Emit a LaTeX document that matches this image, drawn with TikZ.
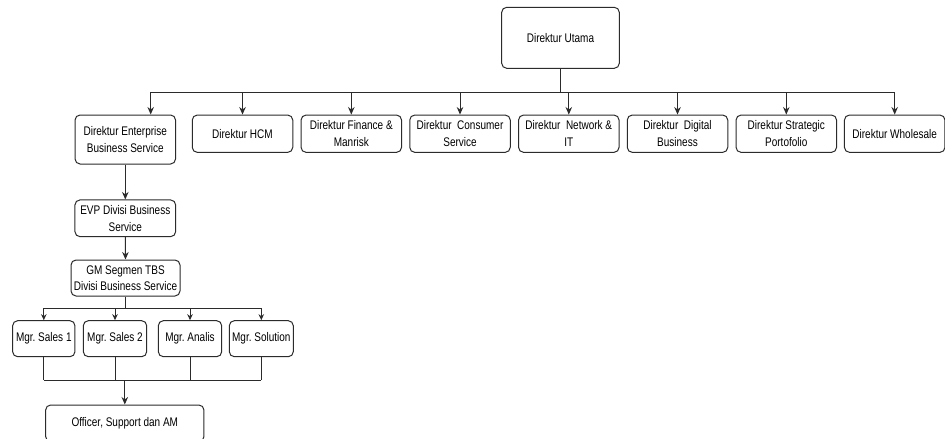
\documentclass[tikz,border=0pt]{standalone}
\usepackage{fontspec}
\setmainfont{Liberation Sans}[FakeStretch=0.8]
\usetikzlibrary{arrows.meta}
\definecolor{ln}{HTML}{2B2B2B}
\frenchspacing
\begin{document}
\begin{tikzpicture}[x=1pt,y=-1pt,
  box/.style={draw=ln,line width=1pt,rounded corners=5pt,align=center,inner sep=0pt,
    font=\fontsize{12.5}{16.5}\selectfont,text=black},
  dirbox/.style={box,minimum width=100.5pt,minimum height=37.3pt},
  mgrbox/.style={box,minimum height=36pt},
  ln/.style={draw=ln,line width=1pt},
  arr/.style={ln,-{Stealth[length=7.5pt,width=6.5pt]}},
  sarr/.style={ln,-{Stealth[length=6pt,width=5.5pt]}}]
\useasboundingbox (0,0) rectangle (945,439);
\fill[white] (0,0) rectangle (945,439);
% top
\node[box,minimum width=117.6pt,minimum height=61pt] (u) at (560.5,37.8) {Direktur Utama};
% directors
\node[dirbox,minimum height=49pt] (ent) at (125.3,139.5) {Direktur Enterprise\\Business Service};
\node[dirbox] (hcm) at (242.5,133.7) {Direktur HCM};
\node[dirbox] (fin) at (351.3,133.7) {Direktur Finance \&\\Manrisk};
\node[dirbox] (con) at (460,133.7) {Direktur\ \ Consumer\\Service};
\node[dirbox] (net) at (568.8,133.7) {Direktur\ \ Network \&\\IT};
\node[dirbox] (dig) at (677.5,133.7) {Direktur\ \ Digital\\Business};
\node[dirbox] (str) at (786.3,133.7) {Direktur Strategic\\Portofolio};
\node[dirbox] (who) at (894.7,133.7) {Direktur Wholesale};
% chain
\node[box,minimum width=100.7pt,minimum height=36.7pt] (evp) at (125.3,218.3) {EVP Divisi Business\\Service};
\node[box,minimum width=109pt,minimum height=36pt] (gm) at (125.5,278) {GM Segmen TBS\\Divisi Business Service};
% managers
\node[mgrbox,minimum width=62.3pt] (s1) at (43.8,338.7) {Mgr. Sales 1};
\node[mgrbox,minimum width=63.4pt] (s2) at (115,338.7) {Mgr. Sales 2};
\node[mgrbox,minimum width=63.4pt] (an) at (190,338.7) {Mgr. Analis};
\node[mgrbox,minimum width=64pt] (sol) at (261.3,338.7) {Mgr. Solution};
\node[box,minimum width=158.3pt,minimum height=36.6pt] (off) at (124.8,423.3) {Officer, Support dan AM};
% bus 1
\coordinate (bus) at (0,92);
\coordinate (entin) at ([xshift=25.4pt]ent.north);
\draw[ln] (u.south) -- (u.south |- bus);
\draw[ln] (entin |- bus) -- (who.north |- bus);
\draw[arr] (entin |- bus) -- (entin);
\foreach \n in {hcm,fin,con,net,dig,str,who}
  \draw[arr] (\n.north |- bus) -- (\n.north);
% chain
\draw[arr] (ent.south) -- (evp.north);
\draw[arr] (evp.south) -- (gm.north);
% bus 2
\coordinate (bustwo) at (0,308.3);
\draw[ln] (gm.south) -- (gm.south |- bustwo);
\draw[ln] (s1.north |- bustwo) -- (sol.north |- bustwo);
\foreach \n in {s1,s2,an,sol}
  \draw[sarr] (\n.north |- bustwo) -- (\n.north);
% bus 3
\coordinate (busthree) at (0,380);
\foreach \n in {s1,s2,an,sol}
  \draw[ln] (\n.south) -- (\n.south |- busthree);
\draw[ln] (s1.south |- busthree) -- (sol.south |- busthree);
\draw[arr] (off.north |- busthree) -- (off.north);
\end{tikzpicture}
\end{document}
